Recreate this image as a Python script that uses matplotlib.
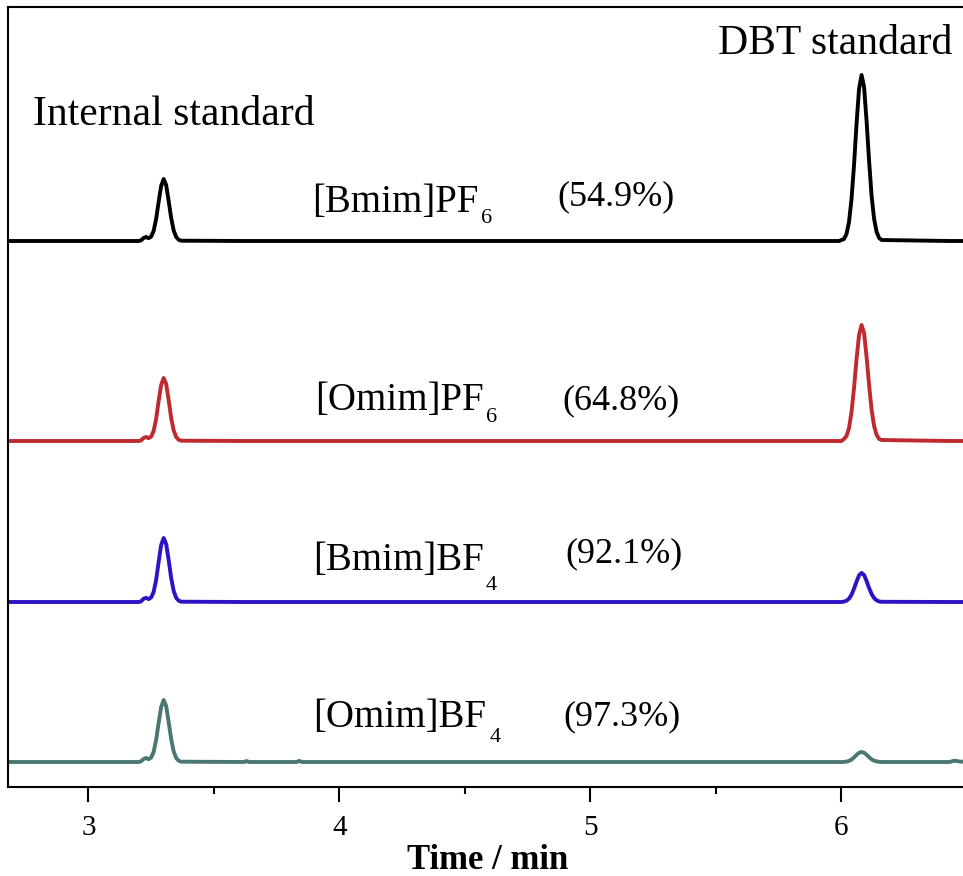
import numpy as np
import matplotlib
matplotlib.use("Agg")
import matplotlib.pyplot as plt

plt.rcParams['font.family'] = ['Liberation Serif', 'DejaVu Serif']

# retention time grid (min)
time = [2.68,
        3.20, 3.21, 3.22, 3.23, 3.24, 3.25, 3.26, 3.27, 3.28, 3.29,
        3.30, 3.31, 3.32, 3.33, 3.34, 3.35, 3.36, 3.37,
        3.62, 3.63, 3.64, 3.83, 3.84, 3.85,
        5.99, 6.00, 6.01, 6.02, 6.03, 6.04, 6.05, 6.06, 6.07, 6.08,
        6.09, 6.10, 6.11, 6.12, 6.13, 6.14, 6.15, 6.16,
        6.43, 6.45, 6.47, 6.50]

# detector signal (a.u.) above each trace's own baseline
bmim_pf6 = [0,
            0, 0.6, 3, 4, 2.8, 4.3, 10, 22, 39, 55,
            62, 56, 40, 23, 10.5, 4, 1.2, 0.3,
            0, 0, 0, 0, 0, 0,
            0, 1, 2, 7, 19, 42, 76, 117, 152, 166,
            154, 120, 80, 45, 22, 9, 3, 1,
            0, 0, 0, 0]
omim_pf6 = [0,
            0, 0.6, 3, 4, 2.8, 4.3, 10, 22, 40, 56,
            63, 57, 41, 23, 10.5, 4, 1.2, 0.3,
            0, 0, 0, 0, 0, 0,
            0, 0, 2, 5, 13, 29, 53, 82, 106, 116,
            108, 84, 56, 31, 15, 6, 2, 1,
            0, 0, 0, 0]
bmim_bf4 = [0,
            0, 0.6, 3.2, 4.2, 2.9, 4.5, 10, 22, 40, 57,
            64, 58, 42, 24, 11, 4, 1.3, 0.3,
            0, 0, 0, 0, 0, 0,
            0, 0, 0.4, 1.3, 3.3, 7.3, 13.3, 20.5, 26.6, 29,
            27, 21, 14, 8, 4, 1.6, 0.6, 0.2,
            0, 0, 0, 0]
omim_bf4 = [0,
            0, 0.6, 3, 4, 2.8, 4.3, 10, 22, 39, 55,
            62, 56, 40, 23, 10.5, 4, 1.2, 0.3,
            0, 1, 0, 0, 1.2, 0,
            0, 0, 0.1, 0.4, 1.1, 2.5, 4.6, 7.1, 9.2, 10,
            9.3, 7.2, 4.8, 2.7, 1.3, 0.6, 0.2, 0,
            0, 1.3, 0.5, 0]

traces = [bmim_pf6, omim_pf6, bmim_bf4, omim_bf4]
baselines = [546, 346, 185, 25]
colors = ['#000000', '#bf2a2e', '#2c14c4', '#4a7774']
names = ['[Bmim]PF', '[Omim]PF', '[Bmim]BF', '[Omim]BF']
subs = ['6', '6', '4', '4']
removal = ['(54.9%)', '(64.8%)', '(92.1%)', '(97.3%)']

# label anchors (time, signal) for name, subscript and removal
name_pos = [(3.892, 575), (3.904, 377), (3.896, 217), (3.896, 60)]
sub_pos = [(4.565, 564), (4.585, 365), (4.583, 197), (4.597, 45)]
rem_pos = [(4.869, 582), (4.888, 378), (4.900, 225), (4.892, 62)]

fig = plt.figure(figsize=(9.63, 8.76), dpi=100)
ax = fig.add_axes([8/963, 89/876, 959/963, 780/876])

t = np.array(time)
for sig, base, c in zip(traces, baselines, colors):
    ax.plot(t, np.array(sig) + base, color=c, lw=2.8, solid_joinstyle='round')

for i in range(4):
    ax.text(*name_pos[i], names[i], fontsize=28, va='baseline')
    ax.text(*sub_pos[i], subs[i], fontsize=16, va='baseline')
    ax.text(*rem_pos[i], removal[i], fontsize=26, va='baseline')

ax.text(2.781, 662, 'Internal standard', fontsize=30, va='baseline')
ax.text(5.510, 733, 'DBT standard', fontsize=30, va='baseline')

ax.set_xlim(2.68, 6.5)
ax.set_ylim(0, 780)
ax.set_yticks([])
ax.set_xticks([3, 4, 5, 6])
ax.set_xticks([3.5, 4.5, 5.5], minor=True)
ax.tick_params(axis='x', which='major', direction='out', length=11, width=1.5,
               labelsize=21, pad=9)
ax.tick_params(axis='x', which='minor', direction='out', length=5, width=1.5)
ax.spines['right'].set_visible(False)
for s in ['left', 'top', 'bottom']:
    ax.spines[s].set_linewidth(1.5)
ax.set_xlabel('Time / min', fontsize=25, fontweight='bold', labelpad=2)

fig.savefig('out.png', dpi=100)
